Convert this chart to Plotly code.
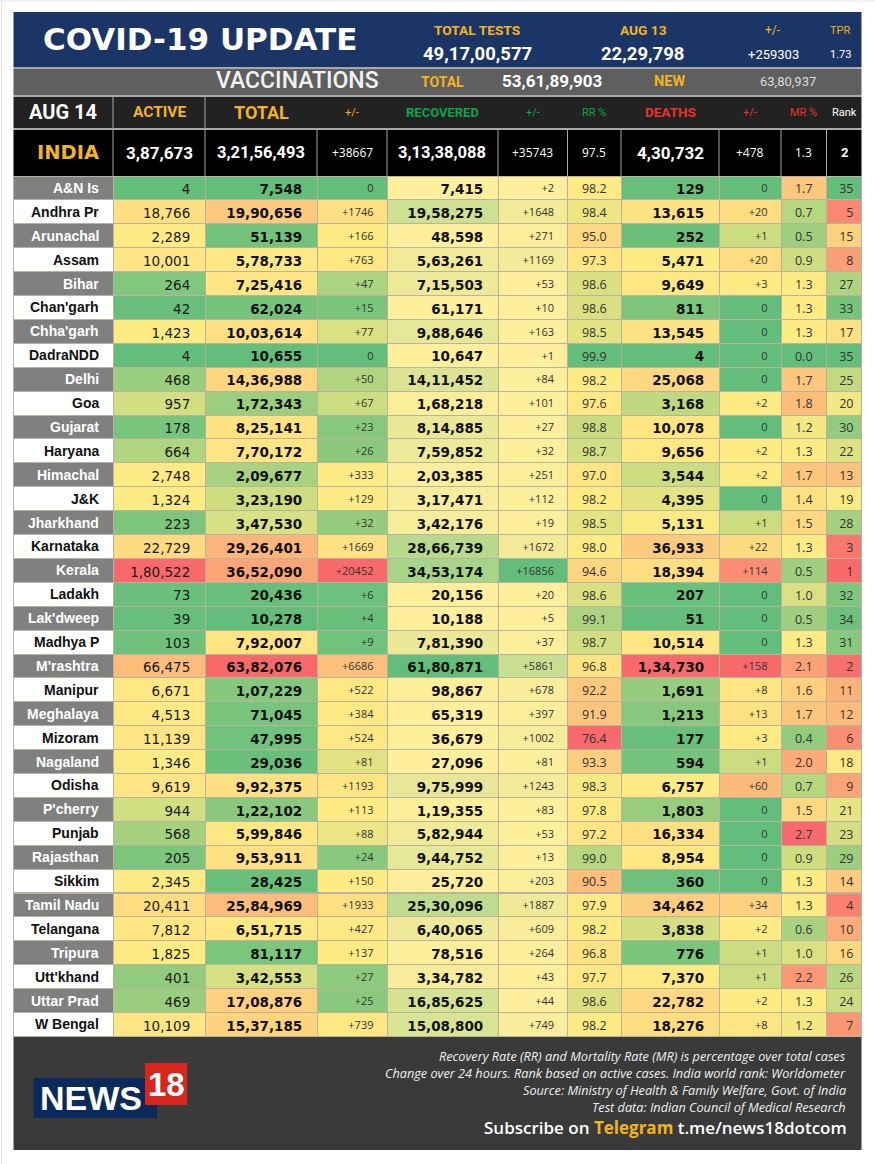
import numpy as np
import plotly.graph_objects as go
from plotly.colors import sample_colorscale

states = ["A&N Is", "Andhra Pr", "Arunachal", "Assam", "Bihar", "Chan'garh", "Chha'garh", "DadraNDD", "Delhi",
          "Goa", "Gujarat", "Haryana", "Himachal", "J&K", "Jharkhand", "Karnataka", "Kerala", "Ladakh",
          "Lak'dweep", "Madhya P", "M'rashtra", "Manipur", "Meghalaya", "Mizoram", "Nagaland", "Odisha",
          "P'cherry", "Punjab", "Rajasthan", "Sikkim", "Tamil Nadu", "Telangana", "Tripura", "Utt'khand",
          "Uttar Prad", "W Bengal"]
active = [4, 18766, 2289, 10001, 264, 42, 1423, 4, 468, 957, 178, 664, 2748, 1324, 223, 22729, 180522, 73,
          39, 103, 66475, 6671, 4513, 11139, 1346, 9619, 944, 568, 205, 2345, 20411, 7812, 1825, 401, 469, 10109]
total = [7548, 1990656, 51139, 578733, 725416, 62024, 1003614, 10655, 1436988, 172343, 825141, 770172,
         209677, 323190, 347530, 2926401, 3652090, 20436, 10278, 792007, 6382076, 107229, 71045, 47995,
         29036, 992375, 122102, 599846, 953911, 28425, 2584969, 651715, 81117, 342553, 1708876, 1537185]
total_chg = [0, 1746, 166, 763, 47, 15, 77, 0, 50, 67, 23, 26, 333, 129, 32, 1669, 20452, 6, 4, 9, 6686,
             522, 384, 524, 81, 1193, 113, 88, 24, 150, 1933, 427, 137, 27, 25, 739]
recovered = [7415, 1958275, 48598, 563261, 715503, 61171, 988646, 10647, 1411452, 168218, 814885, 759852,
             203385, 317471, 342176, 2866739, 3453174, 20156, 10188, 781390, 6180871, 98867, 65319, 36679,
             27096, 975999, 119355, 582944, 944752, 25720, 2530096, 640065, 78516, 334782, 1685625, 1508800]
recovered_chg = [2, 1648, 271, 1169, 53, 10, 163, 1, 84, 101, 27, 32, 251, 112, 19, 1672, 16856, 20, 5, 37,
                 5861, 678, 397, 1002, 81, 1243, 83, 53, 13, 203, 1887, 609, 264, 43, 44, 749]
rr = [98.2, 98.4, 95.0, 97.3, 98.6, 98.6, 98.5, 99.9, 98.2, 97.6, 98.8, 98.7, 97.0, 98.2, 98.5, 98.0, 94.6,
      98.6, 99.1, 98.7, 96.8, 92.2, 91.9, 76.4, 93.3, 98.3, 97.8, 97.2, 99.0, 90.5, 97.9, 98.2, 96.8, 97.7,
      98.6, 98.2]
deaths = [129, 13615, 252, 5471, 9649, 811, 13545, 4, 25068, 3168, 10078, 9656, 3544, 4395, 5131, 36933,
          18394, 207, 51, 10514, 134730, 1691, 1213, 177, 594, 6757, 1803, 16334, 8954, 360, 34462, 3838,
          776, 7370, 22782, 18276]
deaths_chg = [0, 20, 1, 20, 3, 0, 0, 0, 0, 2, 0, 2, 2, 0, 1, 22, 114, 0, 0, 0, 158, 8, 13, 3, 1, 60, 0, 0,
              0, 0, 34, 2, 1, 1, 2, 8]
mr = [1.7, 0.7, 0.5, 0.9, 1.3, 1.3, 1.3, 0.0, 1.7, 1.8, 1.2, 1.3, 1.7, 1.4, 1.5, 1.3, 0.5, 1.0, 0.5, 1.3,
      2.1, 1.6, 1.7, 0.4, 2.0, 0.7, 1.5, 2.7, 0.9, 1.3, 1.3, 0.6, 1.0, 2.2, 1.3, 1.2]
rank = [35, 5, 15, 8, 27, 33, 17, 35, 25, 20, 30, 22, 13, 19, 28, 3, 1, 32, 34, 31, 2, 11, 12, 6, 18, 9, 21,
        23, 29, 14, 4, 10, 16, 26, 24, 7]

col_labels = ["AUG 14", "ACTIVE", "TOTAL", "+/-", "RECOVERED", "+/-", "RR %", "DEATHS", "+/-", "MR %", "Rank"]
india_row = ["INDIA", "3,87,673", "3,21,56,493", "+38667", "3,13,38,088", "+35743", "97.5", "4,30,732", "+478",
             "1.3", "2"]
footnotes = ["Recovery Rate (RR) and Mortality Rate (MR) is percentage over total cases",
             "Change over 24 hours. Rank based on active cases. India world rank: Worldometer",
             "Source: Ministry of Health & Family Welfare, Govt. of India",
             "Test data: Indian Council of Medical Research"]

# layout, in pixels of the 875x1164 page
W, H = 875, 1164
col_edges = [13.5, 113, 205, 317, 387, 498, 567.5, 621, 719, 781, 826.5, 861.5]
col_mid = [(a + b) / 2 for a, b in zip(col_edges, col_edges[1:])]
col_w = [b - a for a, b in zip(col_edges, col_edges[1:])]
ROW_H = 23.9
BODY_TOP, BODY_BOTTOM = 176, 1036.4

AMBER = "#f2b41b"
GREEN = "#0ba34d"
RED = "#e5342b"
NUM = "DejaVu Sans"
HEAD = "Roboto"
SMALL = "Open Sans"

GYR = [[0, "#63be7b"], [0.5, "#ffeb84"], [1, "#f8696b"]]
YG = [[0, "#ffef9c"], [1, "#63be7b"]]


def indian(n):
    s = str(n)
    if len(s) <= 3:
        return s
    head, tail = s[:-3], s[-3:]
    parts = []
    while len(head) > 2:
        parts.insert(0, head[-2:])
        head = head[:-2]
    parts.insert(0, head)
    return ",".join(parts) + "," + tail


def signed(n):
    return "+%d" % n if n else "0"


def three_colour(vals, mid=None, reverse=False):
    # excel style min / median / max colour scale
    mid = np.median(vals) if mid is None else mid
    t = np.interp(vals, [min(vals), mid, max(vals)], [0, 0.5, 1])
    if reverse:
        t = 1 - t
    return sample_colorscale(GYR, list(t))


def two_colour(vals):
    t = (np.array(vals) - min(vals)) / (max(vals) - min(vals))
    return sample_colorscale(YG, list(t))


stripe = ["#808080" if i % 2 == 0 else "#ffffff" for i in range(len(states))]
stripe_text = ["#ffffff" if i % 2 == 0 else "#111111" for i in range(len(states))]

# state names go on as annotations: a table cell with & or a space grows taller
cell_text = [[""] * len(states), [indian(v) for v in active], [indian(v) for v in total], [signed(v) for v in total_chg],
             [indian(v) for v in recovered], [signed(v) for v in recovered_chg], ["%.1f" % v for v in rr],
             [indian(v) for v in deaths], [signed(v) for v in deaths_chg], ["%.1f" % v for v in mr],
             [str(v) for v in rank]]
cell_fill = [stripe, three_colour(active), three_colour(total), three_colour(total_chg),
             two_colour(recovered), two_colour(recovered_chg), three_colour(rr, reverse=True),
             three_colour(deaths), three_colour(deaths_chg, mid=1.5), three_colour(mr),
             three_colour(rank, reverse=True)]

PAD = "\u2002"
fig = go.Figure(go.Table(
    domain=dict(x=[col_edges[0] / W, col_edges[-1] / W], y=[1 - (BODY_BOTTOM + 1) / H, 1 - BODY_TOP / H]),
    columnwidth=col_w,
    header=dict(values=[""] * 11, height=0, line=dict(width=0), fill=dict(color="rgba(0,0,0,0)")),
    cells=dict(
        values=cell_text,
        height=ROW_H,
        align=["right", "right", "right", "right", "right", "right", "center", "right", "right", "center", "right"],
        suffix=["", PAD, PAD, PAD, PAD, PAD, "", PAD, PAD, "", ""],
        fill=dict(color=cell_fill),
        line=dict(color="#b8b39c", width=1),
        font=dict(
            family=["Liberation Sans", NUM, NUM, SMALL, NUM, SMALL, SMALL, NUM, SMALL, SMALL, SMALL],
            size=[14, 13.5, 13.5, 11, 13.5, 11, 12.5, 13.5, 11, 12.5, 12.5],
            weight=["bold", "normal", "bold", "normal", "bold", "normal", "normal", "bold", "normal", "normal", "normal"],
            color=["#111111", "#1a1a1a", "#111111", "#333333", "#111111", "#333333", "#333333", "#111111",
                   "#333333", "#333333", "#333333"],
        ),
    ),
))

rects = [
    (13.5, 12, 861.5, 67, "#1c3567"),     # title band
    (13.5, 67, 861.5, 69, "#a8a8a8"),
    (13.5, 69, 861.5, 95, "#5f5f5f"),     # vaccinations band
    (13.5, 95, 861.5, 97, "#a8a8a8"),
    (13.5, 97, 861.5, 128, "#222222"),    # column heads
    (13.5, 128, 861.5, 130, "#a8a8a8"),
    (13.5, 130, 861.5, 176, "#000000"),   # india row
    (13.5, 1036, 861.5, 1150, "#3a3a3a"), # footer
    (33.5, 1078, 157, 1118, "#0b2a5b"),   # logo
    (145, 1063, 187, 1105, "#d8261c"),
]
for x0, y0, x1, y1, c in rects:
    fig.add_shape(type="rect", xref="paper", yref="paper", x0=x0 / W, y0=1 - y0 / H, x1=x1 / W, y1=1 - y1 / H,
                  fillcolor=c, line_width=0, layer="below")

# faint frame left over at the top and left of the screenshot
fig.add_shape(type="line", xref="paper", yref="paper", x0=0, x1=1, y0=1 - 1 / H, y1=1 - 1 / H,
              line=dict(color="#e6e6e6", width=1), layer="below")
fig.add_shape(type="line", xref="paper", yref="paper", x0=1.5 / W, x1=1.5 / W, y0=0, y1=1,
              line=dict(color="#e6e6e6", width=1), layer="below")

# column separators in the two black rows
for x in col_edges[1:3]:
    fig.add_shape(type="line", xref="paper", yref="paper", x0=x / W, x1=x / W, y0=1 - 97 / H, y1=1 - 128 / H,
                  line=dict(color="#a8a8a8", width=1), layer="below")
for x in col_edges[1:-1]:
    fig.add_shape(type="line", xref="paper", yref="paper", x0=x / W, x1=x / W, y0=1 - 130 / H, y1=1 - 176 / H,
                  line=dict(color="#a8a8a8", width=1), layer="below")


def label(x, y, text, size, color="#ffffff", family=HEAD, weight="normal", anchor="center", style="normal"):
    fig.add_annotation(x=x / W, y=1 - y / H, xref="paper", yref="paper", text=text, showarrow=False,
                       xanchor=anchor, yanchor="middle",
                       font=dict(size=size, color=color, family=family, weight=weight, style=style))


# title band
label(199.5, 39.5, "COVID-19 UPDATE", 31, family=NUM, weight="bold")
label(477, 30, "TOTAL TESTS", 13.7, AMBER, weight="bold")
label(643, 30, "AUG 13", 13.7, AMBER, weight="bold")
label(773, 30, "+/-", 12, AMBER)
label(840, 30, "TPR", 11, AMBER)
label(477.5, 54, "49,17,00,577", 18.5, weight="bold")
label(642.5, 54, "22,29,798", 18.5, weight="bold")
label(773, 54, "+259303", 13)
label(840, 54, "1.73", 11)

# vaccinations band
label(297, 81, "VACCINATIONS", 23, "#f2f2f2", weight=500)
label(442, 82, "TOTAL", 14, AMBER, weight="bold")
label(552, 81, "53,61,89,903", 17, weight="bold")
label(669, 82, "NEW", 14.5, AMBER, weight="bold")
label(788, 82, "63,80,937", 13, "#dddddd")

# column heads
head_style = [(20, "#ffffff", "bold"), (15.5, AMBER, "bold"), (18, AMBER, "bold"), (11, AMBER, "normal"),
              (13, GREEN, "bold"), (11, GREEN, "normal"), (11, GREEN, "normal"), (13.5, RED, "bold"),
              (11, RED, "normal"), (11, RED, "normal"), (11, "#ffffff", "normal")]
for x, text, (size, color, weight) in zip(col_mid, col_labels, head_style):
    label(x, 112.5, text, size, color, weight=weight)

# india row, the name sits a little right of its column centre
india_x = [68] + col_mid[1:]
india_style = [(19.5, AMBER, NUM, "bold"), (17, "#fff", HEAD, "bold"), (16.5, "#fff", HEAD, "bold"),
               (12, "#fff", SMALL, "normal"), (16.5, "#fff", HEAD, "bold"), (12, "#fff", SMALL, "normal"),
               (12, "#fff", SMALL, "normal"), (17, "#fff", HEAD, "bold"), (12, "#fff", SMALL, "normal"),
               (12, "#fff", SMALL, "normal"), (13, "#fff", HEAD, "bold")]
for x, text, (size, color, family, weight) in zip(india_x, india_row, india_style):
    label(x, 153, text, size, color, family=family, weight=weight)

# state names
for i, name in enumerate(states):
    label(100.5, BODY_TOP + (i + 0.5) * ROW_H, name, 14, stripe_text[i], family="Liberation Sans", weight="bold",
          anchor="right")

# footer
for y, text in zip([1055.5, 1072.5, 1089.5, 1106.5], footnotes):
    label(847.5, y, text, 12.7, "#f0f0f0", family="Open Sans", anchor="right", style="italic")
label(849, 1127, "Subscribe on <span style='color:%s'><b>Telegram</b></span> t.me/news18dotcom" % AMBER,
      17, family="Open Sans", anchor="right", weight=600)
label(90.5, 1098, "NEWS", 34, family="Liberation Sans", weight="bold")
label(166, 1084, "18", 33, family="Liberation Sans", weight="bold")

fig.update_layout(
    width=W, height=H,
    margin=dict(l=0, r=0, t=0, b=0),
    paper_bgcolor="#ffffff",
    showlegend=False,
)

fig.write_html("out.html", post_script="document.body.style.margin='0';", config={"displayModeBar": False})
